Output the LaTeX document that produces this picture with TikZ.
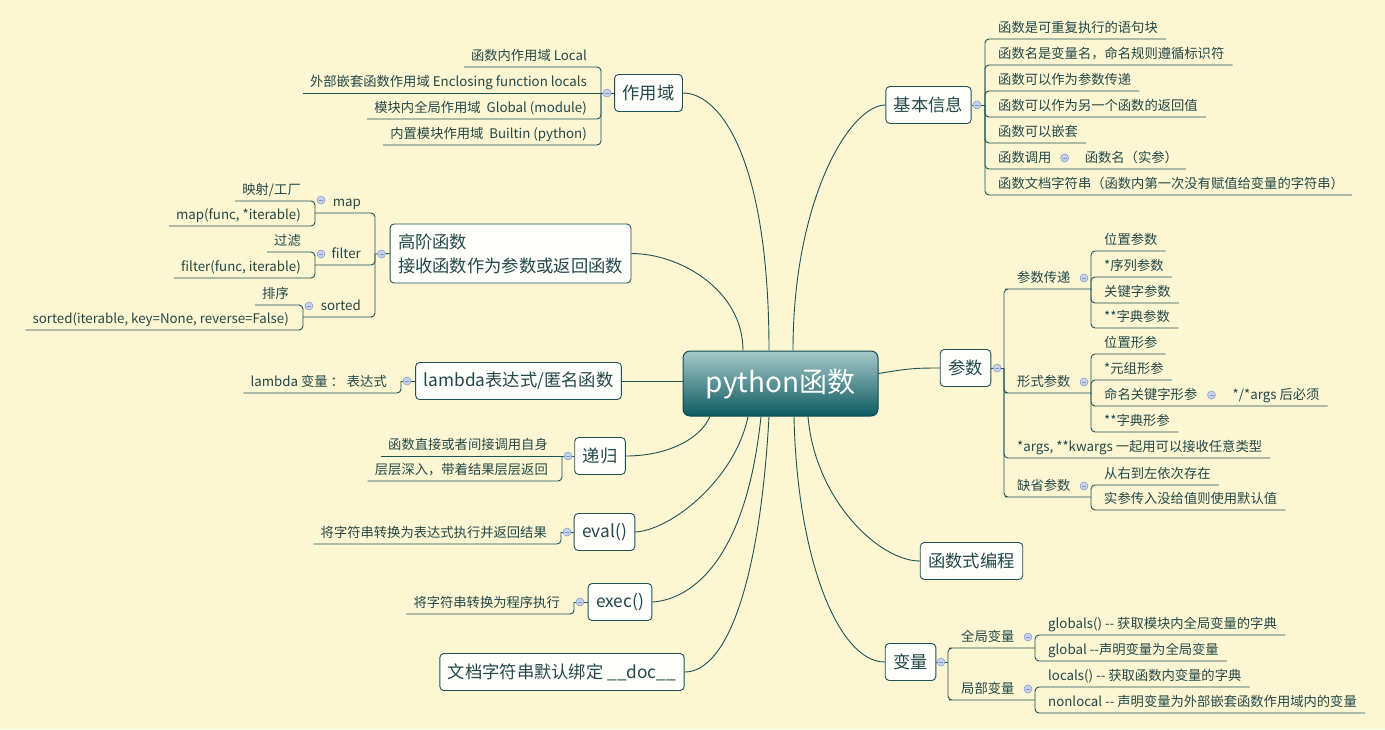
\documentclass[tikz,border=0pt]{standalone}
\usepackage{fontspec}
\setmainfont{Noto Sans CJK SC}
\definecolor{bgc}{HTML}{FDF6D2}
\definecolor{linec}{HTML}{1C5456}
\definecolor{txtc}{HTML}{224848}
\definecolor{topicfill}{HTML}{FFFFFB}
\definecolor{mkfill}{HTML}{C7D3EE}
\definecolor{mkline}{HTML}{7F95C8}
\definecolor{roottop}{HTML}{A6C9C9}
\definecolor{rootbot}{HTML}{0C5A60}
\definecolor{rootline}{HTML}{0E4B4F}
\newcommand{\hyhy}{-\kern0pt-}

\begin{document}
\begin{tikzpicture}[
    x=1pt, y=-1pt,
    link/.style={draw=linec, line width=0.9pt},
    bracket/.style={link, rounded corners=4pt},
    root/.style={rectangle, draw=rootline, line width=1pt, rounded corners=7pt, top color=roottop, bottom color=rootbot, text=white, minimum width=195pt, minimum height=65pt, font=\fontsize{28}{32}\selectfont},
    topic/.style={rectangle, draw=linec, line width=0.9pt, fill=topicfill, rounded corners=4pt, text=txtc, inner xsep=8pt, minimum height=37pt, font=\fontsize{17.3}{24}\selectfont},
    lbl/.style={text=txtc, inner ysep=3.5pt, text height=10pt, text depth=3pt, font=\fontsize{13.3}{16}\selectfont},
    leaf/.style={lbl, anchor=south west, xshift=5pt, inner xsep=8pt},
    lleaf/.style={lbl, anchor=south east, xshift=-7pt, inner xsep=7pt},
    mk/.style={circle, draw=mkline, fill=mkfill, line width=0.5pt, minimum size=8pt, inner sep=0pt,
        path picture={\draw[mkline, line width=0.8pt] ([xshift=-2pt]path picture bounding box.center) -- ([xshift=2pt]path picture bounding box.center);}}
]

\useasboundingbox (0,0) rectangle (1385,729);
\fill[bgc] (0,0) rectangle (1385,729);

% Centre
\node[root] (root) at (780.5,383.5) {python函数};

% Main topics, right
\node[topic] (info) at (928.5,105) {基本信息};
\node[topic] (param) at (965.5,368) {参数};
\node[topic] (fp) at (971.5,561) {函数式编程};
\node[topic] (var) at (910.5,662) {变量};

% Main topics, left
\node[topic] (scope) at (648.5,93) {作用域};
\node[topic, align=left, minimum height=59pt] (high) at (510.5,253.5) {高阶函数\\接收函数作为参数或返回函数};
\node[topic] (lam) at (518.5,381) {lambda表达式/匿名函数};
\node[topic] (rec) at (600,456) {递归};
\node[topic] (ev) at (604.5,532) {eval()};
\node[topic] (ex) at (620,602) {exec()};
\node[topic] (doc) at (562,672) {文档字符串默认绑定 \_\_doc\_\_};

% Curves to the centre
\draw[link] (scope.east) .. controls +(38,0) and +(0,-190) .. ([xshift=-11.5pt]root.north);
\draw[link] (high.east) .. controls +(49,0) and +(0,-60) .. ([xshift=-37.5pt]root.north);
\draw[link] (info.west) .. controls +(-36,0) and +(0,-150) .. ([xshift=12.5pt]root.north);
\draw[link] (lam.east) -- (lam.east -| root.west);
\draw[link] ([yshift=10pt]root.east) .. controls +(30,-5) and +(-25,0) .. (param.west);
\draw[link] (rec.east) .. controls +(41,0) and +(-10,23) .. ([xshift=-70.5pt]root.south);
\draw[link] (ev.east) .. controls +(36,-2) and +(-13,63) .. ([xshift=-32.5pt]root.south);
\draw[link] (ex.east) .. controls +(33,-2) and +(-16,153) .. ([xshift=-19.5pt]root.south);
\draw[link] (doc.east) .. controls +(43,0) and +(-9,163) .. ([xshift=-11.5pt]root.south);
\draw[link] (fp.west) .. controls +(-41,0) and +(7,83) .. ([xshift=27.5pt]root.south);
\draw[link] (var.west) .. controls +(-46,0) and +(3,143) .. ([xshift=13.5pt]root.south);

% 基本信息
\coordinate (bInfo) at (985,105);
\node[leaf] (i1) at (985,39) {函数是可重复执行的语句块};
\node[leaf] (i2) at (985,65) {函数名是变量名，命名规则遵循标识符};
\node[leaf] (i3) at (985,91) {函数可以作为参数传递};
\node[leaf] (i4) at (985,117) {函数可以作为另一个函数的返回值};
\node[leaf] (i5) at (985,143) {函数可以嵌套};
\node[leaf] (i6) at (985,169) {函数调用};
\node[leaf] (i6b) at ([xshift=12pt]i6.south east) {函数名（实参）};
\node[leaf] (i7) at (985,195) {函数文档字符串（函数内第一次没有赋值给变量的字符串）};
\draw[link] (info.east) -- (bInfo);
\draw[bracket] (bInfo) |- (i1.south east);
\draw[bracket] (bInfo) |- (i2.south east);
\draw[bracket] (bInfo) |- (i3.south east);
\draw[bracket] (bInfo) |- (i4.south east);
\draw[bracket] (bInfo) |- (i5.south east);
\draw[bracket] (bInfo) |- (i6.south east) -- (i6b.south east);
\draw[bracket] (bInfo) |- (i7.south east);
\node[mk] (mkInfo) at (977,105) {};
\node[mk] (mkCall) at ([xshift=5pt,yshift=11pt]i6.south east) {};

% 参数
\coordinate (bParam) at (1004,368);
\coordinate (bPass) at (1091,289);
\coordinate (bForm) at (1091,393);
\coordinate (bDef) at (1091,497);
\node[leaf] (pPass) at (1004,289) {参数传递};
\node[leaf] (pForm) at (1004,393) {形式参数};
\node[leaf] (pAny) at (1004,458) {*args, **kwargs 一起用可以接收任意类型};
\node[leaf] (pDef) at (1004,497) {缺省参数};
\node[leaf] (pass1) at (1091,251) {位置参数};
\node[leaf] (pass2) at (1091,277) {*序列参数};
\node[leaf] (pass3) at (1091,303) {关键字参数};
\node[leaf] (pass4) at (1091,328) {**字典参数};
\node[leaf] (form1) at (1091,354) {位置形参};
\node[leaf] (form2) at (1091,380) {*元组形参};
\node[leaf] (form3) at (1091,406) {命名关键字形参};
\node[leaf] (form3b) at ([xshift=14pt]form3.south east) {*/*args 后必须};
\node[leaf] (form4) at (1091,432) {**字典形参};
\node[leaf] (def1) at (1091,485) {从右到左依次存在};
\node[leaf] (def2) at (1091,510) {实参传入没给值则使用默认值};
\draw[link] (param.east) -- (bParam);
\draw[bracket] (bParam) |- (pPass.south west) -- (bPass);
\draw[bracket] (bParam) |- (pForm.south west) -- (bForm);
\draw[bracket] (bParam) |- (pAny.south east);
\draw[bracket] (bParam) |- (pDef.south west) -- (bDef);
\draw[bracket] (bPass) |- (pass1.south east);
\draw[bracket] (bPass) |- (pass2.south east);
\draw[bracket] (bPass) |- (pass3.south east);
\draw[bracket] (bPass) |- (pass4.south east);
\draw[bracket] (bForm) |- (form1.south east);
\draw[bracket] (bForm) |- (form2.south east);
\draw[bracket] (bForm) |- (form3.south east) -- (form3b.south east);
\draw[bracket] (bForm) |- (form4.south east);
\draw[bracket] (bDef) |- (def1.south east);
\draw[bracket] (bDef) |- (def2.south east);
\node[mk] (mkParam) at (997,368) {};
\node[mk] (mkPass) at (1084,278) {};
\node[mk] (mkForm) at (1084,382) {};
\node[mk] (mkNamed) at ([xshift=6pt,yshift=11pt]form3.south east) {};
\node[mk] (mkDef) at (1084,486) {};

% 变量
\coordinate (bVar) at (948,662);
\coordinate (bGlob) at (1035,648);
\coordinate (bLoc) at (1035,700);
\node[leaf] (vGlob) at (948,648) {全局变量};
\node[leaf] (vLoc) at (948,700) {局部变量};
\node[leaf] (glob1) at (1035,635) {globals() \hyhy{} 获取模块内全局变量的字典};
\node[leaf] (glob2) at (1035,661) {global \hyhy{}声明变量为全局变量};
\node[leaf] (loc1) at (1035,687) {locals() \hyhy{} 获取函数内变量的字典};
\node[leaf] (loc2) at (1035,713) {nonlocal \hyhy{} 声明变量为外部嵌套函数作用域内的变量};
\draw[link] (var.east) -- (bVar);
\draw[bracket] (bVar) |- (vGlob.south west) -- (bGlob);
\draw[bracket] (bVar) |- (vLoc.south west) -- (bLoc);
\draw[bracket] (bGlob) |- (glob1.south east);
\draw[bracket] (bGlob) |- (glob2.south east);
\draw[bracket] (bLoc) |- (loc1.south east);
\draw[bracket] (bLoc) |- (loc2.south east);
\node[mk] (mkVar) at (941,662) {};
\node[mk] (mkGlob) at (1028,637) {};
\node[mk] (mkLoc) at (1028,689) {};

% 作用域
\coordinate (bScope) at (601,93);
\node[lleaf] (s1) at (601,67) {函数内作用域 Local};
\node[lleaf] (s2) at (601,93) {外部嵌套函数作用域 Enclosing function locals};
\node[lleaf] (s3) at (601,119) {模块内全局作用域\ \ Global (module)};
\node[lleaf] (s4) at (601,145) {内置模块作用域\ \ Builtin (python)};
\draw[link] (scope.west) -- (bScope);
\draw[bracket] (bScope) |- (s1.south west);
\draw[link] (bScope) -- (s2.south west);
\draw[bracket] (bScope) |- (s3.south west);
\draw[bracket] (bScope) |- (s4.south west);
\node[mk] (mkScope) at (607,93) {};

% 高阶函数
\coordinate (bHigh) at (375,254);
\coordinate (bMap) at (315,213);
\coordinate (bFilter) at (315,265);
\coordinate (bSort) at (303,317);
\node[lleaf] (hMap) at (375,213) {map};
\node[lleaf] (hFilter) at (375,265) {filter};
\node[lleaf] (hSort) at (375,317) {sorted};
\node[lleaf] (map1) at (315,201) {映射/工厂};
\node[lleaf] (map2) at (315,226) {map(func, *iterable)};
\node[lleaf] (filt1) at (315,252) {过滤};
\node[lleaf] (filt2) at (315,278) {filter(func, iterable)};
\node[lleaf] (sort1) at (303,305) {排序};
\node[lleaf] (sort2) at (303,330) {sorted(iterable, key=None, reverse=False)};
\draw[link] (high.west) -- (bHigh);
\draw[bracket] (bHigh) |- (hMap.south east) -- (bMap);
\draw[bracket] (bHigh) |- (hFilter.south east) -- (bFilter);
\draw[bracket] (bHigh) |- (hSort.south east) -- (bSort);
\draw[bracket] (bMap) |- (map1.south west);
\draw[bracket] (bMap) |- (map2.south west);
\draw[bracket] (bFilter) |- (filt1.south west);
\draw[bracket] (bFilter) |- (filt2.south west);
\draw[bracket] (bSort) |- (sort1.south west);
\draw[bracket] (bSort) |- (sort2.south west);
\node[mk] (mkHigh) at (381.5,254) {};
\node[mk] (mkMap) at (321,200) {};
\node[mk] (mkFilter) at (321,254) {};
\node[mk] (mkSort) at (309,306) {};

% lambda, 递归, eval, exec
\coordinate (bLam) at (401,381);
\coordinate (bRec) at (562,456);
\coordinate (bEval) at (561,532);
\coordinate (bExec) at (574,602);
\node[lleaf] (lam1) at (401,393) {lambda 变量 ： 表达式};
\node[lleaf] (rec1) at (562,456) {函数直接或者间接调用自身};
\node[lleaf] (rec2) at (562,481) {层层深入，带着结果层层返回};
\node[lleaf] (ev1) at (561,544) {将字符串转换为表达式执行并返回结果};
\node[lleaf] (ex1) at (574,614) {将字符串转换为程序执行};
\draw[link] (lam.west) -- (bLam);
\draw[bracket] (bLam) |- (lam1.south west);
\draw[link] (rec.west) -- (bRec);
\draw[link] (bRec) -- (rec1.south west);
\draw[bracket] (bRec) |- (rec2.south west);
\draw[link] (ev.west) -- (bEval);
\draw[bracket] (bEval) |- (ev1.south west);
\draw[link] (ex.west) -- (bExec);
\draw[bracket] (bExec) |- (ex1.south west);
\node[mk] (mkLam) at (407,381) {};
\node[mk] (mkRec) at (568,456) {};
\node[mk] (mkEval) at (567,532) {};
\node[mk] (mkExec) at (580,602) {};

\end{tikzpicture}
\end{document}
